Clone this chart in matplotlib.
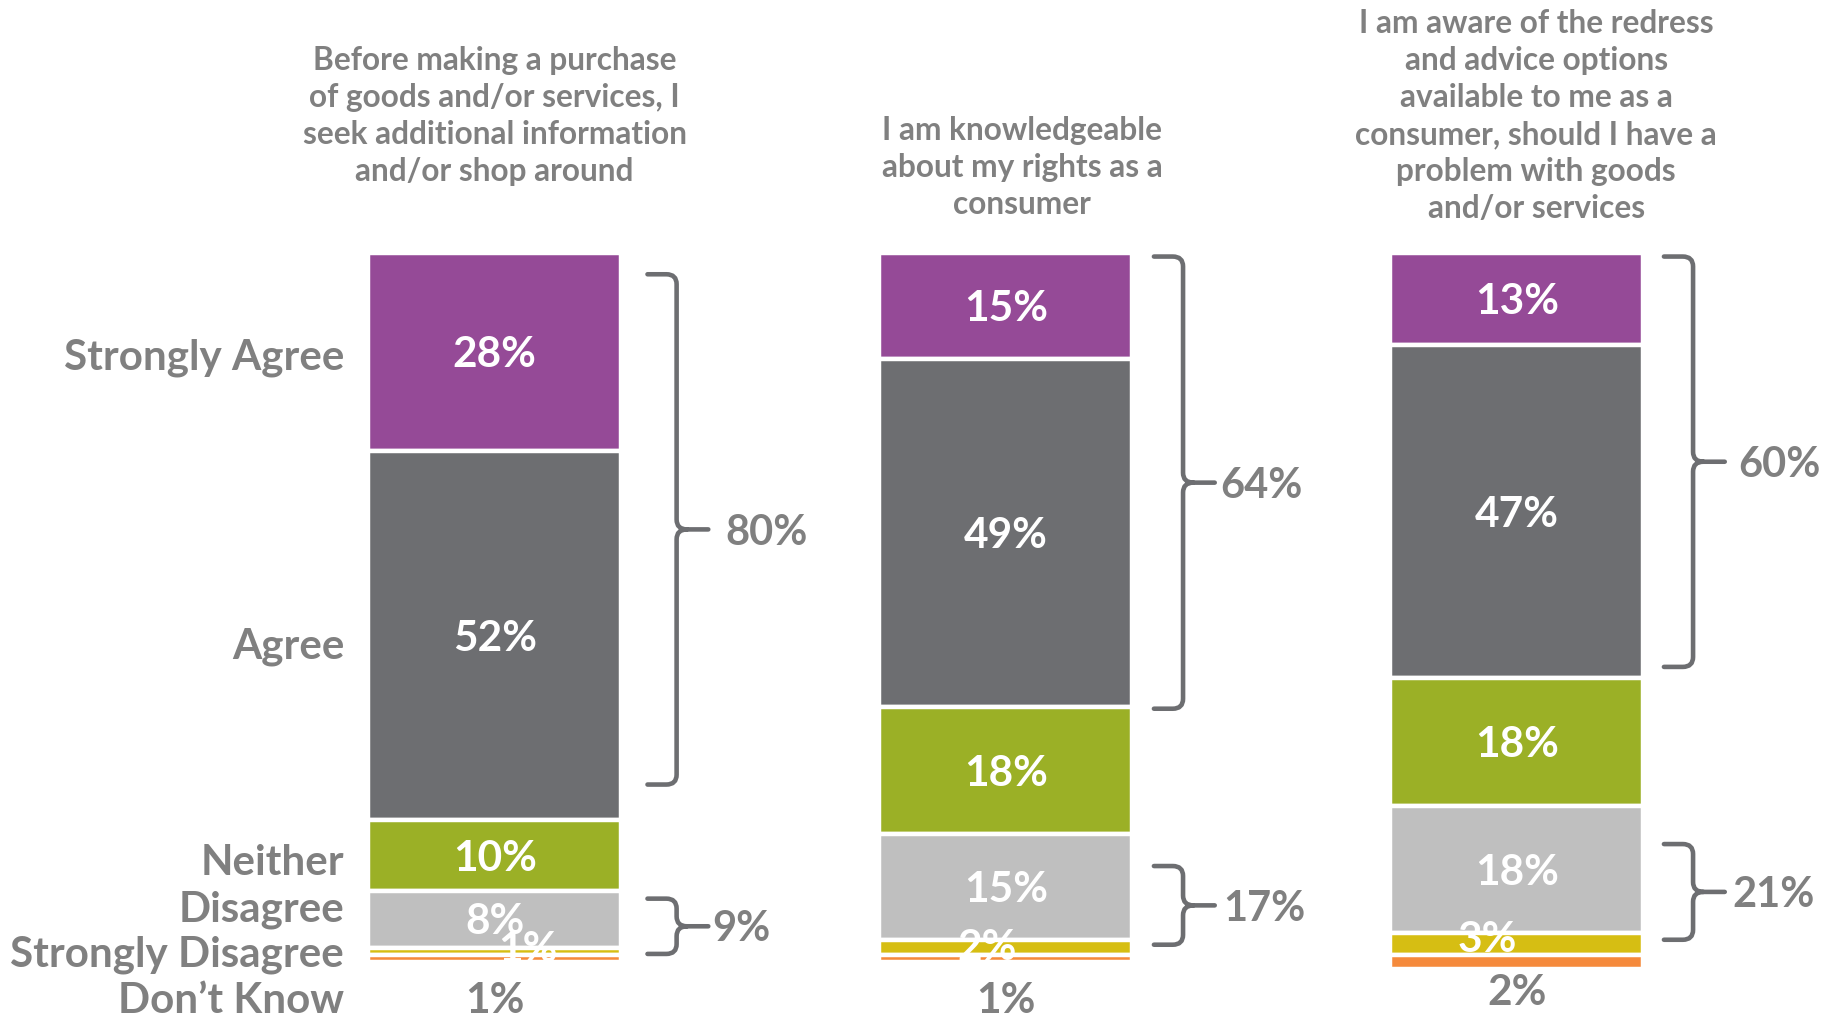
import matplotlib

matplotlib.use("Agg")
import matplotlib.pyplot as plt
import numpy as np
from matplotlib.path import Path
from matplotlib.patches import PathPatch

plt.rcParams["font.family"] = ["Lato", "DejaVu Sans"]

# --- data -------------------------------------------------------------------
titles = [
    "Before making a purchase\nof goods and/or services, I\nseek additional information\nand/or shop around",
    "I am knowledgeable\nabout my rights as a\nconsumer",
    "I am aware of the redress\nand advice options\navailable to me as a\nconsumer, should I have a\nproblem with goods\nand/or services",
]
categories = ["Strongly Agree", "Agree", "Neither", "Disagree",
              "Strongly Disagree", "Don\u2019t Know"]
strongly_agree = [28, 15, 13]
agree = [52, 49, 47]
neither = [10, 18, 18]
disagree = [8, 15, 18]
strongly_disagree = [1, 2, 3]
dont_know = [1, 1, 2]

agree_net = [80, 64, 60]
disagree_net = [9, 17, 21]

colors = ["#954A97", "#6D6E71", "#9BB026", "#BFBFBF", "#D6BE13", "#F58A3C"]
GREY = "#808080"
BRACE = "#6D6E71"

# hand-placed brace spans (top, bottom) in % units, as in the original
agree_spans = [(3.0, 75.0), (0.5, 64.3), (0.5, 58.4)]
disagree_spans = [(91.1, 98.9), (86.5, 97.6), (83.4, 96.9)]
brace_dx = [0.108, 0.099, 0.097]
agree_gap = [0.034, 0.010, 0.026]
disagree_gap = [0.008, 0.017, 0.015]

# label positions taken from the original layout
cat_label_y = [14.8, 55.5, 86.1, 92.6, 99.0, 105.5]
title_dx = [0.0, 0.032, 0.038]
title_y = [-19.3, -12.1, -19.3]
small_label_dx = [0.065, -0.037, -0.058]
small_label_y = [98.4, 98.0, 96.9]
dk_label_y = [105.5, 105.5, 104.4]
TXT_DY = 0.45


def brace(ax, x, ya, yb, rx=0.02, ry=1.4, hook=0.057, tip=0.062):
    """Right-pointing curly brace from ya to yb, vertical stroke at x."""
    x0, x2, ym = x - hook, x + tip, 0.5 * (ya + yb)
    verts = [
        (x0, ya), (x - rx, ya), (x, ya), (x, ya + ry),
        (x, ym - ry), (x, ym), (x + rx, ym), (x2, ym),
        (x + rx, ym), (x, ym), (x, ym + ry),
        (x, yb - ry), (x, yb), (x - rx, yb), (x0, yb),
    ]
    codes = [
        Path.MOVETO, Path.LINETO, Path.CURVE3, Path.CURVE3,
        Path.LINETO, Path.CURVE3, Path.CURVE3, Path.LINETO,
        Path.MOVETO, Path.CURVE3, Path.CURVE3,
        Path.LINETO, Path.CURVE3, Path.CURVE3, Path.LINETO,
    ]
    ax.add_patch(PathPatch(Path(verts, codes), fill=False, edgecolor=BRACE,
                           lw=3.3, capstyle="round", joinstyle="round"))
    return x2


fig = plt.figure(figsize=(18.29, 10.17), dpi=100)
ax = fig.add_axes([0, 0, 1, 1])
ax.set_xlim(-0.968, 2.611)
ax.set_ylim(107.8, -35.7)
ax.axis("off")

x = np.arange(3)
width = 0.496
series = [strongly_agree, agree, neither, disagree, strongly_disagree, dont_know]
bottom = np.zeros(3)
for vals, color in zip(series, colors):
    ax.bar(x, vals, width, bottom=bottom, color=color, edgecolor="white",
           linewidth=3.2)
    bottom = bottom + np.array(vals)

# values inside the big segments
starts = np.cumsum([np.zeros(3)] + series[:-1], axis=0)
for k in range(4):
    for i in range(3):
        ax.text(x[i], starts[k][i] + series[k][i] / 2 + TXT_DY,
                f"{series[k][i]}%", ha="center", va="center", color="white",
                fontsize=30.5, fontweight="bold")

for i in range(3):
    # strongly disagree label (white, overlapping the thin strip)
    ax.text(x[i] + small_label_dx[i], small_label_y[i],
            f"{strongly_disagree[i]}%", ha="center", va="center",
            color="white", fontsize=30.5, fontweight="bold")
    # don't know label below the bar
    ax.text(x[i], dk_label_y[i], f"{dont_know[i]}%", ha="center",
            va="center", color=GREY, fontsize=30.5, fontweight="bold")
    # question title
    ax.text(x[i] + title_dx[i], title_y[i], titles[i], ha="center",
            va="center", color=GREY, fontsize=22.8, fontweight="bold",
            linespacing=1.33)

    bx = x[i] + width / 2 + brace_dx[i]
    tip = brace(ax, bx, *agree_spans[i])
    ax.text(tip + agree_gap[i], sum(agree_spans[i]) / 2 + TXT_DY,
            f"{agree_net[i]}%", ha="left", va="center", color=GREY,
            fontsize=30, fontweight="bold")
    tip = brace(ax, bx, *disagree_spans[i])
    ax.text(tip + disagree_gap[i], sum(disagree_spans[i]) / 2 + TXT_DY,
            f"{disagree_net[i]}%", ha="left", va="center", color=GREY,
            fontsize=30, fontweight="bold")

for name, yy in zip(categories, cat_label_y):
    ax.text(-0.2945, yy, name, ha="right", va="center", color=GREY,
            fontsize=30.3, fontweight="bold")

fig.savefig("out.png", dpi=100)
